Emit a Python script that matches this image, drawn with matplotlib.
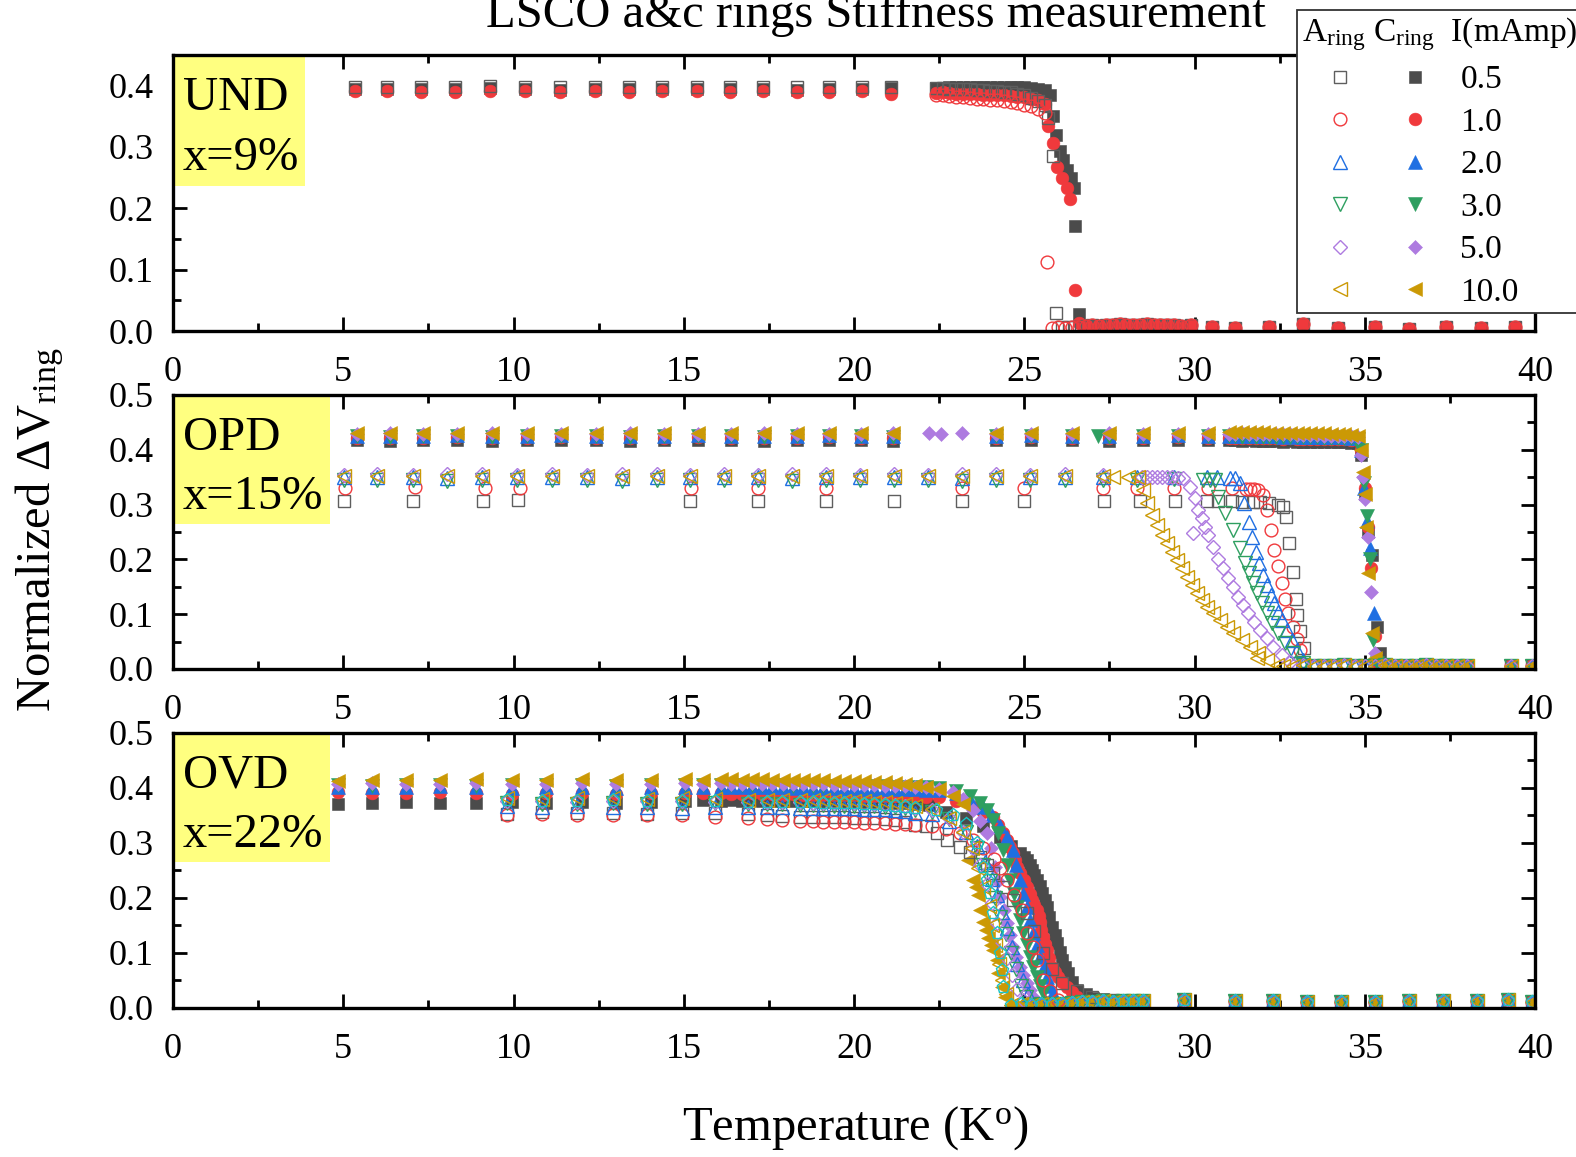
import matplotlib
matplotlib.use("Agg")
import matplotlib.pyplot as plt
from matplotlib.lines import Line2D
from matplotlib.legend_handler import HandlerTuple
from matplotlib.patches import Rectangle
from matplotlib.ticker import MultipleLocator, FormatStrFormatter

plt.rcParams["font.family"] = ["Liberation Serif", "DejaVu Serif"]
plt.rcParams["mathtext.fontset"] = "custom"
plt.rcParams["mathtext.rm"] = "Liberation Serif"
plt.rcParams["mathtext.it"] = "Liberation Serif:italic"
plt.rcParams["mathtext.bf"] = "Liberation Serif:bold"

# ---------------------------------------------------------------- data
currents = ["0.5", "1.0", "2.0", "3.0", "5.0", "10.0"]

# ---- UND, x = 9 %
und_T_low = [5.35, 6.28, 7.28, 8.28, 9.31, 10.34, 11.37, 12.39, 13.39, 14.36,
             15.39, 16.36, 17.33, 18.33, 19.27, 20.24, 21.1]
und_T_band = [22.4, 22.6, 22.8, 23.0, 23.2, 23.4, 23.6, 23.8, 24.0, 24.2,
              24.4, 24.6, 24.8, 25.0, 25.2, 25.4, 25.6]
und_T_tail = [26.8, 27.0, 27.2, 27.4, 27.6, 27.8, 28.0, 28.2, 28.4, 28.6,
              28.8, 29.0, 29.2, 29.4, 29.6, 29.9, 30.5, 31.2, 32.2, 33.2,
              34.2, 35.3, 36.3, 37.4, 38.4, 39.4]
und_V_tail = [0.008, 0.009, 0.008, 0.010, 0.009, 0.011, 0.010, 0.009, 0.010, 0.011,
              0.010, 0.009, 0.010, 0.009, 0.008, 0.009, 0.006, 0.005, 0.006, 0.012,
              0.005, 0.006, 0.004, 0.006, 0.005, 0.006]

und_c05_T = und_T_low + und_T_band + [25.76, 25.85, 25.93, 26.05, 26.14, 26.26, 26.37, 26.45, 26.48, 26.6]
und_c05_V = [0.394, 0.395, 0.394, 0.395, 0.396, 0.395, 0.393, 0.394, 0.394, 0.395,
             0.394, 0.395, 0.394, 0.393, 0.394, 0.395, 0.396,
             0.396, 0.396, 0.397, 0.397, 0.397, 0.398, 0.398, 0.398, 0.398, 0.398,
             0.398, 0.397, 0.397, 0.397, 0.396, 0.395, 0.393,
             0.385, 0.350, 0.320, 0.294, 0.278, 0.262, 0.249, 0.233, 0.171, 0.028]

und_c10_T = und_T_low + und_T_band + [25.7, 25.83, 25.95, 26.1, 26.25, 26.35, 26.48, 26.62]
und_c10_V = [0.391, 0.392, 0.390, 0.389, 0.391, 0.392, 0.390, 0.391, 0.389, 0.391,
             0.392, 0.390, 0.391, 0.389, 0.390, 0.391, 0.387,
             0.388, 0.389, 0.388, 0.387, 0.387, 0.386, 0.386, 0.385, 0.385, 0.384,
             0.384, 0.383, 0.382, 0.381, 0.379, 0.376, 0.370,
             0.335, 0.306, 0.267, 0.249, 0.233, 0.216, 0.067, 0.013]

und_a05_T = und_T_low + und_T_band + [25.7, 25.85, 25.93, 26.1, 26.3, 26.5]
und_a05_V = [0.397, 0.398, 0.397, 0.398, 0.399, 0.397, 0.398, 0.397, 0.398, 0.398,
             0.397, 0.398, 0.398, 0.397, 0.398, 0.397, 0.398,
             0.396, 0.396, 0.395, 0.395, 0.394, 0.394, 0.393, 0.393, 0.392, 0.391,
             0.390, 0.389, 0.387, 0.384, 0.380, 0.375, 0.368,
             0.348, 0.286, 0.029, 0.006, 0.007, 0.006]

und_a10_T = und_T_band + [25.67, 25.8, 26.0, 26.2, 26.4, 26.6]
und_a10_V = [0.385, 0.384, 0.383, 0.382, 0.381, 0.380, 0.379, 0.378, 0.377, 0.376,
             0.375, 0.373, 0.371, 0.369, 0.366, 0.362, 0.355,
             0.112, 0.005, 0.006, 0.005, 0.007, 0.006]

# ---- OPD, x = 15 %
opd_T_fill = [5.4, 6.37, 7.34, 8.34, 9.37, 10.4, 11.4, 12.42, 13.42, 14.42,
              15.42, 16.39, 17.36, 18.33, 19.27, 20.21, 21.15, 24.17, 25.2, 26.4,
              27.5, 28.5, 29.5, 30.4, 31.0, 31.2, 31.4, 31.6, 31.8, 32.0,
              32.2, 32.4, 32.6, 32.8, 33.0, 33.2, 33.4, 33.6, 33.8, 34.0,
              34.2, 34.4, 34.6, 34.8]
opd_T_open = [5.02, 5.99, 7.05, 8.05, 9.07, 10.1, 11.13, 12.16, 13.19, 14.21,
              15.18, 16.18, 17.18, 18.18, 19.18, 20.18, 21.17, 22.17, 23.17, 24.17,
              25.17, 26.2, 27.3]
opd_T_tail = [32.6, 32.9, 33.2, 33.5, 33.8, 34.1, 34.4, 34.7, 35.0, 35.3,
              35.6, 35.9, 36.2, 36.5, 36.8, 37.1, 37.4, 37.7, 38.0, 39.3, 39.9]
opd_V_tail = [0.006, 0.005, 0.007, 0.006, 0.005, 0.006, 0.007, 0.006, 0.005, 0.006,
              0.007, 0.006, 0.005, 0.006, 0.007, 0.006, 0.005, 0.006, 0.005, 0.006, 0.005]

opd_c05_T = opd_T_fill + [34.9, 35.0, 35.1, 35.22, 35.35, 35.45]
opd_c05_V = [0.417, 0.416, 0.417, 0.418, 0.416, 0.417, 0.418, 0.417, 0.416, 0.417,
             0.418, 0.417, 0.416, 0.417, 0.418, 0.417, 0.416, 0.417, 0.418, 0.417,
             0.416, 0.417, 0.418, 0.417, 0.417, 0.417, 0.416, 0.417, 0.416, 0.416,
             0.416, 0.416, 0.415, 0.416, 0.415, 0.415, 0.415, 0.415, 0.414, 0.414,
             0.414, 0.414, 0.413, 0.412,
             0.390, 0.320, 0.250, 0.208, 0.077, 0.029]
opd_c10_T = opd_T_fill + [34.9, 35.0, 35.1, 35.18, 35.3, 35.4]
opd_c10_V = [0.422, 0.421, 0.422, 0.423, 0.421, 0.422, 0.423, 0.422, 0.421, 0.422,
             0.423, 0.422, 0.421, 0.422, 0.423, 0.422, 0.421, 0.422, 0.423, 0.422,
             0.421, 0.422, 0.423, 0.422, 0.422, 0.422, 0.421, 0.422, 0.421, 0.421,
             0.421, 0.421, 0.420, 0.421, 0.420, 0.420, 0.420, 0.420, 0.419, 0.419,
             0.419, 0.419, 0.418, 0.417,
             0.400, 0.330, 0.260, 0.184, 0.060, 0.010]
opd_c20_T = opd_T_fill + [34.9, 34.98, 35.07, 35.15, 35.27, 35.35]
opd_c20_V = [0.426, 0.425, 0.426, 0.427, 0.425, 0.426, 0.427, 0.426, 0.425, 0.426,
             0.427, 0.426, 0.425, 0.426, 0.427, 0.426, 0.425, 0.426, 0.427, 0.426,
             0.425, 0.426, 0.427, 0.426, 0.426, 0.426, 0.425, 0.426, 0.425, 0.425,
             0.425, 0.425, 0.424, 0.425, 0.424, 0.424, 0.424, 0.424, 0.423, 0.423,
             0.423, 0.423, 0.422, 0.421,
             0.400, 0.330, 0.270, 0.220, 0.102, 0.020]
opd_c30_T = opd_T_fill + [27.17, 34.9, 34.98, 35.07, 35.15, 35.25, 35.35]
opd_c30_V = [0.425, 0.424, 0.425, 0.426, 0.424, 0.425, 0.426, 0.425, 0.424, 0.425,
             0.426, 0.425, 0.424, 0.425, 0.426, 0.425, 0.424, 0.425, 0.426, 0.425,
             0.424, 0.425, 0.426, 0.425, 0.425, 0.425, 0.424, 0.425, 0.424, 0.424,
             0.424, 0.424, 0.423, 0.424, 0.423, 0.423, 0.423, 0.423, 0.422, 0.422,
             0.422, 0.422, 0.421, 0.420,
             0.426, 0.400, 0.340, 0.280, 0.200, 0.053, 0.010]
opd_c50_T = [22.2, 22.55, 23.17] + opd_T_fill + [34.88, 34.95, 35.02, 35.1, 35.18, 35.3]
opd_c50_V = [0.430, 0.429, 0.431,
             0.429, 0.430, 0.429, 0.428, 0.430, 0.429, 0.428, 0.429, 0.430, 0.429,
             0.428, 0.429, 0.430, 0.429, 0.428, 0.429, 0.430, 0.429, 0.428, 0.429,
             0.430, 0.429, 0.428, 0.429, 0.429, 0.429, 0.430, 0.429, 0.429, 0.429,
             0.428, 0.428, 0.428, 0.428, 0.427, 0.427, 0.427, 0.427, 0.426, 0.426,
             0.426, 0.425, 0.425, 0.424,
             0.390, 0.350, 0.310, 0.240, 0.140, 0.030]
opd_c100_T = opd_T_fill + [34.9, 34.95, 35.0, 35.05, 35.1, 35.2, 35.3]
opd_c100_V = [0.430, 0.431, 0.430, 0.431, 0.430, 0.431, 0.430, 0.431, 0.430, 0.431,
              0.430, 0.431, 0.430, 0.431, 0.430, 0.431, 0.430, 0.431, 0.430, 0.431,
              0.430, 0.431, 0.430, 0.431, 0.432, 0.432, 0.432, 0.432, 0.432, 0.432,
              0.431, 0.431, 0.431, 0.431, 0.431, 0.430, 0.430, 0.430, 0.430, 0.429,
              0.429, 0.428, 0.427, 0.425,
              0.400, 0.360, 0.320, 0.260, 0.175, 0.066, 0.020]

opd_a05_T = [5.02, 7.05, 9.1, 10.13, 15.18, 17.18, 19.18, 21.17, 23.17, 25.0,
             27.35, 28.4, 29.43, 30.37, 30.69, 31.1, 31.4, 31.72, 31.92, 32.2,
             32.45, 32.6, 32.69, 32.78, 32.89, 32.98, 33.01, 33.1, 33.22]
opd_a05_V = [0.307, 0.306, 0.307, 0.308, 0.306, 0.307, 0.306, 0.307, 0.307, 0.306,
             0.306, 0.307, 0.306, 0.306, 0.306, 0.306, 0.305, 0.305, 0.304, 0.303,
             0.300, 0.295, 0.277, 0.230, 0.177, 0.128, 0.099, 0.070, 0.038]
opd_a10_T = [5.05, 7.1, 9.15, 10.18, 15.22, 17.18, 19.18, 23.17, 25.0, 27.3,
             28.3, 29.4, 30.4, 31.1, 31.5, 31.62, 31.75, 31.87, 32.0, 32.13,
             32.25, 32.33, 32.45, 32.57, 32.66, 32.75, 32.89, 33.01, 33.1]
opd_a10_V = [0.330, 0.332, 0.330, 0.331, 0.330, 0.331, 0.330, 0.331, 0.330, 0.330,
             0.331, 0.330, 0.330, 0.330, 0.329, 0.329, 0.328, 0.327, 0.317, 0.290,
             0.254, 0.217, 0.188, 0.157, 0.128, 0.102, 0.077, 0.055, 0.035]
opd_a20_T = opd_T_open + [28.3, 29.4, 30.37, 30.66, 31.04, 31.2, 31.34, 31.45, 31.6, 31.69,
                          31.81, 31.9, 32.01, 32.13, 32.25, 32.33, 32.45, 32.57, 32.72, 32.86,
                          33.01, 33.19]
opd_a20_V = [0.350, 0.351, 0.350, 0.349, 0.350, 0.351, 0.350, 0.350, 0.349, 0.350,
             0.351, 0.350, 0.350, 0.349, 0.350, 0.351, 0.350, 0.350, 0.349, 0.350,
             0.351, 0.350, 0.350,
             0.350, 0.350, 0.351, 0.350, 0.349, 0.348, 0.340, 0.303, 0.268, 0.241,
             0.213, 0.193, 0.172, 0.153, 0.135, 0.120, 0.104, 0.089, 0.071, 0.053,
             0.035, 0.016]
opd_a30_T = opd_T_open + [28.3, 29.4, 30.25, 30.45, 30.6, 30.69, 30.9, 31.13, 31.34, 31.48,
                          31.6, 31.72, 31.84, 31.98, 32.13, 32.28, 32.45, 32.66, 32.89, 33.19]
opd_a30_V = [0.344, 0.345, 0.344, 0.343, 0.345, 0.344, 0.345, 0.344, 0.343, 0.344,
             0.345, 0.344, 0.344, 0.343, 0.344, 0.345, 0.344, 0.344, 0.343, 0.344,
             0.345, 0.344, 0.344,
             0.345, 0.346, 0.345, 0.345, 0.344, 0.314, 0.285, 0.254, 0.220, 0.193,
             0.175, 0.157, 0.139, 0.120, 0.102, 0.084, 0.066, 0.047, 0.029, 0.011]
opd_a50_T = opd_T_open + [28.45, 28.6, 28.75, 28.9, 29.05, 29.2, 29.35, 29.5, 29.66, 29.87,
                          29.96, 30.01, 30.1, 30.22, 30.31, 30.4, 30.54, 30.69, 30.84, 30.98,
                          31.13, 31.28, 31.42, 31.57, 31.75, 31.92, 32.13, 32.31, 32.57, 32.8]
opd_a50_V = [0.354, 0.355, 0.354, 0.355, 0.356, 0.354, 0.355, 0.354, 0.355, 0.356,
             0.354, 0.355, 0.354, 0.355, 0.356, 0.354, 0.355, 0.354, 0.355, 0.356,
             0.354, 0.355, 0.354,
             0.350, 0.351, 0.350, 0.350, 0.351, 0.350, 0.350, 0.349, 0.348, 0.332,
             0.248, 0.312, 0.290, 0.276, 0.259, 0.245, 0.223, 0.200, 0.184, 0.166,
             0.150, 0.131, 0.117, 0.102, 0.086, 0.071, 0.057, 0.040, 0.026, 0.013]
opd_a100_T = opd_T_open + [27.6, 28.05, 28.35, 28.49, 28.6, 28.75, 28.9, 29.05, 29.19, 29.34,
                           29.49, 29.63, 29.78, 29.93, 30.07, 30.22, 30.37, 30.54, 30.75, 30.95,
                           31.13, 31.4, 31.63, 31.84, 31.86, 32.13, 32.42]
opd_a100_V = [0.352, 0.353, 0.352, 0.353, 0.352, 0.353, 0.352, 0.353, 0.352, 0.353,
              0.352, 0.353, 0.352, 0.353, 0.352, 0.353, 0.352, 0.353, 0.352, 0.353,
              0.352, 0.353, 0.352,
              0.350, 0.351, 0.350, 0.327, 0.303, 0.281, 0.263, 0.245, 0.230, 0.214,
              0.199, 0.184, 0.168, 0.153, 0.139, 0.126, 0.113, 0.102, 0.089, 0.077,
              0.066, 0.053, 0.040, 0.020, 0.029, 0.016, 0.007]

# ---- OVD, x = 22 %
ovd_T_fill = [4.85, 5.85, 6.85, 7.85, 8.9, 9.95, 10.95, 12.0, 13.0, 14.05,
              15.05, 15.55, 16.1, 16.4, 16.7, 17.0, 17.3, 17.6, 17.9, 18.2,
              18.5, 18.8, 19.1, 19.4, 19.7, 20.0, 20.3, 20.6, 20.9, 21.2,
              21.5, 21.8, 22.1]
ovd_T_open = [9.8, 10.85, 11.86, 12.92, 13.92, 14.95, 15.92, 16.89, 17.44, 17.89,
              18.4, 18.8, 19.1, 19.4, 19.7, 20.0, 20.3, 20.6, 20.9, 21.2,
              21.5, 21.8]
ovd_T_tail = [24.6, 24.9, 25.2, 25.5, 25.8, 26.1, 26.4, 26.7, 27.0, 27.3,
              27.6, 27.9, 28.2, 28.5, 29.7, 31.2, 32.3, 33.3, 34.3, 35.3,
              36.3, 37.3, 38.3, 39.2, 39.9]
ovd_V_tail = [0.006, 0.007, 0.006, 0.008, 0.007, 0.008, 0.009, 0.010, 0.011, 0.012,
              0.011, 0.012, 0.013, 0.012, 0.014, 0.013, 0.012, 0.011, 0.010, 0.011,
              0.012, 0.013, 0.012, 0.014, 0.010]

ovd_c05_T = ovd_T_fill + [22.2, 22.7, 23.3, 23.8, 24.3, 24.6, 24.87, 24.98, 25.08, 25.16,
                          25.23, 25.3, 25.37, 25.45, 25.52, 25.6, 25.67, 25.74, 25.81, 25.89,
                          25.96, 26.04, 26.11, 26.2, 26.28, 26.4, 26.55, 26.8, 27.02, 27.3,
                          27.6]
ovd_c05_V = [0.370, 0.372, 0.374, 0.372, 0.373, 0.374, 0.372, 0.375, 0.373, 0.374,
             0.376, 0.378, 0.377, 0.378, 0.377, 0.378, 0.377, 0.377, 0.376, 0.377,
             0.376, 0.376, 0.375, 0.376, 0.375, 0.375, 0.374, 0.374, 0.373, 0.373,
             0.372, 0.371, 0.370,
             0.369, 0.357, 0.345, 0.330, 0.310, 0.295, 0.282, 0.275, 0.269, 0.260,
             0.251, 0.242, 0.233, 0.221, 0.209, 0.197, 0.184, 0.165, 0.147, 0.132,
             0.118, 0.102, 0.087, 0.075, 0.064, 0.048, 0.033, 0.025, 0.018, 0.016,
             0.015]
ovd_c10_T = ovd_T_fill + [22.5, 23.0, 23.5, 23.8, 24.08, 24.23, 24.38, 24.48, 24.58, 24.66,
                          24.73, 24.8, 24.87, 24.98, 25.08, 25.16, 25.23, 25.3, 25.37, 25.42,
                          25.46, 25.5, 25.55, 25.61, 25.67, 25.74, 25.81, 25.9, 25.99, 26.12,
                          26.26, 26.4, 26.55]
ovd_c10_V = [0.392, 0.390, 0.391, 0.392, 0.390, 0.389, 0.391, 0.390, 0.389, 0.390,
             0.391, 0.390, 0.390, 0.389, 0.389, 0.390, 0.389, 0.389, 0.388, 0.389,
             0.388, 0.388, 0.388, 0.387, 0.387, 0.387, 0.386, 0.386, 0.386, 0.385,
             0.385, 0.385, 0.384,
             0.383, 0.376, 0.366, 0.357, 0.347, 0.333, 0.318, 0.305, 0.293, 0.281,
             0.269, 0.257, 0.245, 0.232, 0.220, 0.208, 0.196, 0.187, 0.178, 0.167,
             0.156, 0.142, 0.129, 0.117, 0.105, 0.090, 0.075, 0.065, 0.056, 0.047,
             0.038, 0.029, 0.020]
ovd_c20_T = ovd_T_fill + [22.5, 23.0, 23.4, 23.79, 24.05, 24.29, 24.48, 24.67, 24.77, 24.87,
                          24.97, 25.08, 25.17, 25.26, 25.36, 25.46, 25.57, 25.67, 25.76, 25.84]
ovd_c20_V = [0.402, 0.401, 0.402, 0.403, 0.401, 0.400, 0.402, 0.401, 0.400, 0.401,
             0.402, 0.401, 0.402, 0.402, 0.401, 0.402, 0.401, 0.401, 0.401, 0.400,
             0.401, 0.400, 0.400, 0.400, 0.399, 0.400, 0.399, 0.399, 0.399, 0.398,
             0.398, 0.398, 0.397,
             0.397, 0.390, 0.380, 0.365, 0.350, 0.330, 0.310, 0.287, 0.260, 0.233,
             0.208, 0.184, 0.160, 0.136, 0.114, 0.093, 0.074, 0.056, 0.040, 0.027]
ovd_c30_T = ovd_T_fill + [22.5, 23.0, 23.4, 23.7, 23.9, 24.08, 24.23, 24.38, 24.48, 24.58,
                          24.69, 24.79, 24.88, 24.96, 25.07, 25.17, 25.27, 25.37, 25.46, 25.55]
ovd_c30_V = [0.405, 0.404, 0.406, 0.405, 0.404, 0.405, 0.406, 0.405, 0.404, 0.405,
             0.406, 0.405, 0.406, 0.405, 0.405, 0.406, 0.405, 0.405, 0.405, 0.404,
             0.405, 0.404, 0.404, 0.404, 0.403, 0.404, 0.403, 0.403, 0.403, 0.402,
             0.402, 0.401, 0.401,
             0.400, 0.395, 0.385, 0.373, 0.360, 0.342, 0.318, 0.287, 0.260, 0.233,
             0.208, 0.184, 0.160, 0.136, 0.114, 0.093, 0.074, 0.056, 0.040, 0.027]
ovd_c50_T = ovd_T_fill + [22.5, 22.9, 23.2, 23.5, 23.7, 23.9, 24.02, 24.14, 24.22, 24.29,
                          24.4, 24.49, 24.58, 24.67, 24.77, 24.87, 24.97, 25.08, 25.17, 25.26]
ovd_c50_V = [0.408, 0.409, 0.408, 0.407, 0.409, 0.408, 0.407, 0.409, 0.408, 0.408,
             0.409, 0.408, 0.409, 0.408, 0.408, 0.409, 0.408, 0.408, 0.407, 0.408,
             0.407, 0.407, 0.407, 0.406, 0.406, 0.406, 0.405, 0.405, 0.404, 0.404,
             0.403, 0.402, 0.401,
             0.399, 0.392, 0.380, 0.360, 0.340, 0.318, 0.290, 0.256, 0.230, 0.202,
             0.178, 0.155, 0.132, 0.111, 0.092, 0.075, 0.060, 0.045, 0.032, 0.020]
ovd_c100_T = ovd_T_fill + [22.5, 22.9, 23.2, 23.36, 23.5, 23.58, 23.65, 23.7, 23.8, 23.87,
                           23.94, 24.02, 24.09, 24.19, 24.24, 24.34, 24.43]
ovd_c100_V = [0.413, 0.415, 0.414, 0.415, 0.416, 0.414, 0.415, 0.416, 0.415, 0.414,
              0.416, 0.415, 0.416, 0.416, 0.415, 0.416, 0.416, 0.415, 0.415, 0.415,
              0.414, 0.414, 0.414, 0.413, 0.413, 0.412, 0.412, 0.411, 0.410, 0.409,
              0.407, 0.405, 0.402,
              0.398, 0.385, 0.370, 0.269, 0.233, 0.220, 0.205, 0.178, 0.157, 0.142,
              0.127, 0.115, 0.105, 0.087, 0.063, 0.039, 0.020]

ovd_a05_T = ovd_T_open + [22.1, 22.44, 22.73, 23.1, 23.4, 23.7, 23.9, 24.08, 24.38, 24.67,
                          25.08, 25.3, 25.55, 25.8, 26.1, 26.55, 27.0, 27.6]
ovd_a05_V = [0.352, 0.356, 0.354, 0.355, 0.353, 0.355, 0.354, 0.352, 0.350, 0.349,
             0.348, 0.348, 0.347, 0.347, 0.347, 0.346, 0.346, 0.345, 0.344, 0.342,
             0.338, 0.333,
             0.330, 0.318, 0.305, 0.293, 0.284, 0.275, 0.260, 0.245, 0.220, 0.196,
             0.173, 0.140, 0.100, 0.070, 0.045, 0.030, 0.020, 0.015]
ovd_a10_T = ovd_T_open + [22.3, 22.7, 23.1, 23.5, 23.8, 24.1, 24.3, 24.49, 24.7, 24.93,
                          25.08, 25.25, 25.37, 25.55, 25.75, 26.0]
ovd_a10_V = [0.350, 0.352, 0.351, 0.350, 0.351, 0.350, 0.348, 0.345, 0.343, 0.341,
             0.340, 0.340, 0.339, 0.339, 0.338, 0.338, 0.337, 0.337, 0.336, 0.335,
             0.334, 0.332,
             0.330, 0.325, 0.318, 0.305, 0.290, 0.270, 0.255, 0.233, 0.205, 0.178,
             0.136, 0.110, 0.087, 0.050, 0.030, 0.015]
ovd_a20_T = ovd_T_open + [22.3, 22.8, 23.3, 23.6, 23.85, 24.05, 24.2, 24.35, 24.5, 24.65,
                          24.8, 24.95, 25.1]
ovd_a20_V = [0.368, 0.366, 0.367, 0.365, 0.366, 0.364, 0.365, 0.366, 0.365, 0.365,
             0.364, 0.364, 0.364, 0.363, 0.363, 0.363, 0.362, 0.362, 0.361, 0.360,
             0.358, 0.355,
             0.352, 0.340, 0.320, 0.295, 0.265, 0.235, 0.205, 0.175, 0.145, 0.110,
             0.080, 0.050, 0.025]
ovd_a30_T = ovd_T_open + [22.3, 22.8, 23.3, 23.6, 23.8, 24.0, 24.15, 24.3, 24.45, 24.6,
                          24.75, 24.9, 25.05]
ovd_a30_V = [0.372, 0.370, 0.371, 0.372, 0.370, 0.371, 0.372, 0.370, 0.370, 0.370,
             0.369, 0.369, 0.369, 0.368, 0.368, 0.368, 0.367, 0.367, 0.366, 0.365,
             0.363, 0.360,
             0.356, 0.343, 0.320, 0.290, 0.260, 0.230, 0.200, 0.165, 0.135, 0.100,
             0.070, 0.040, 0.020]
ovd_a50_T = ovd_T_open + [22.3, 22.8, 23.2, 23.5, 23.7, 23.9, 24.05, 24.2, 24.35, 24.5,
                          24.65, 24.8, 24.95]
ovd_a50_V = [0.376, 0.377, 0.375, 0.376, 0.377, 0.376, 0.375, 0.375, 0.374, 0.374,
             0.374, 0.373, 0.373, 0.373, 0.372, 0.372, 0.371, 0.371, 0.370, 0.369,
             0.367, 0.364,
             0.360, 0.345, 0.320, 0.290, 0.260, 0.225, 0.190, 0.155, 0.120, 0.090,
             0.060, 0.035, 0.015]
ovd_a100_T = ovd_T_open + [22.3, 22.8, 23.2, 23.45, 23.65, 23.8, 23.95, 24.05, 24.15, 24.25,
                           24.35, 24.45]
ovd_a100_V = [0.381, 0.380, 0.382, 0.381, 0.380, 0.381, 0.380, 0.379, 0.379, 0.379,
              0.378, 0.378, 0.378, 0.377, 0.377, 0.376, 0.376, 0.375, 0.374, 0.373,
              0.371, 0.368,
              0.362, 0.345, 0.320, 0.290, 0.255, 0.220, 0.185, 0.150, 0.115, 0.080,
              0.050, 0.025]
ovd_extra_T = ovd_T_open + [22.4, 22.9, 23.3, 23.6, 23.8, 23.9, 23.99, 24.09, 24.19, 24.29,
                            24.34, 24.38]
ovd_extra_V = [0.378, 0.376, 0.377, 0.378, 0.376, 0.377, 0.376, 0.375, 0.375, 0.374,
               0.374, 0.374, 0.373, 0.373, 0.372, 0.372, 0.371, 0.370, 0.369, 0.368,
               0.366, 0.363,
               0.360, 0.350, 0.335, 0.300, 0.256, 0.233, 0.209, 0.173, 0.136, 0.100,
               0.069, 0.038]

# ---------------------------------------------------------------- styles
COL = {"0.5": "#4b4b4b", "1.0": "#f0393c", "2.0": "#1f6fe2",
       "3.0": "#2e9f60", "5.0": "#ae7be0", "10.0": "#cb9905", "x": "#17c3c6"}
OPEN_SQ = "#5e5e5e"
MARK = {"0.5": ("s", 8.4), "1.0": ("o", 9.2), "2.0": ("^", 9.6),
        "3.0": ("v", 9.6), "5.0": ("D", 7.0), "10.0": ("<", 9.6), "x": ("p", 9.4)}


def style(cur, filled):
    m, ms = MARK[cur]
    c = COL[cur]
    if filled:
        return dict(ls="none", marker=m, ms=ms, mfc=c, mec=c, mew=0.4)
    ec = OPEN_SQ if cur == "0.5" else c
    return dict(ls="none", marker=m, ms=ms, mfc="none", mec=ec, mew=1.0)


def with_tail(T, V, tT, tV):
    if len(T) != len(V):
        raise ValueError("length mismatch %d %d" % (len(T), len(V)))
    t_end = T[-1]
    T2 = list(T) + [t for t in tT if t > t_end]
    V2 = list(V) + [v for t, v in zip(tT, tV) if t > t_end]
    return T2, V2


panels = [
    dict(name="UND", dop="x=9%", ymax=0.45, yticks=[0.0, 0.1, 0.2, 0.3, 0.4],
         box=(0.0969, 0.475),
         tail=(und_T_tail, und_V_tail),
         series=[("0.5", True, und_c05_T, und_c05_V),
                 ("1.0", True, und_c10_T, und_c10_V),
                 ("0.5", False, und_a05_T, und_a05_V),
                 ("1.0", False, und_a10_T, und_a10_V)]),
    dict(name="OPD", dop="x=15%", ymax=0.5, yticks=[0.0, 0.1, 0.2, 0.3, 0.4, 0.5],
         box=(0.1153, 0.471),
         tail=(opd_T_tail, opd_V_tail),
         series=[("0.5", True, opd_c05_T, opd_c05_V),
                 ("1.0", True, opd_c10_T, opd_c10_V),
                 ("2.0", True, opd_c20_T, opd_c20_V),
                 ("3.0", True, opd_c30_T, opd_c30_V),
                 ("5.0", True, opd_c50_T, opd_c50_V),
                 ("10.0", True, opd_c100_T, opd_c100_V),
                 ("0.5", False, opd_a05_T, opd_a05_V),
                 ("1.0", False, opd_a10_T, opd_a10_V),
                 ("2.0", False, opd_a20_T, opd_a20_V),
                 ("3.0", False, opd_a30_T, opd_a30_V),
                 ("5.0", False, opd_a50_T, opd_a50_V),
                 ("10.0", False, opd_a100_T, opd_a100_V)]),
    dict(name="OVD", dop="x=22%", ymax=0.5, yticks=[0.0, 0.1, 0.2, 0.3, 0.4, 0.5],
         box=(0.1153, 0.469),
         tail=(ovd_T_tail, ovd_V_tail),
         series=[("0.5", True, ovd_c05_T, ovd_c05_V),
                 ("1.0", True, ovd_c10_T, ovd_c10_V),
                 ("2.0", True, ovd_c20_T, ovd_c20_V),
                 ("3.0", True, ovd_c30_T, ovd_c30_V),
                 ("5.0", True, ovd_c50_T, ovd_c50_V),
                 ("10.0", True, ovd_c100_T, ovd_c100_V),
                 ("0.5", False, ovd_a05_T, ovd_a05_V),
                 ("1.0", False, ovd_a10_T, ovd_a10_V),
                 ("2.0", False, ovd_a20_T, ovd_a20_V),
                 ("3.0", False, ovd_a30_T, ovd_a30_V),
                 ("5.0", False, ovd_a50_T, ovd_a50_V),
                 ("10.0", False, ovd_a100_T, ovd_a100_V),
                 ("x", False, ovd_extra_T, ovd_extra_V)]),
]

# axes rectangles (left, bottom, width, height) in figure fraction
rects = [(0.1098, 0.7139, 0.8642, 0.2386),
         (0.1098, 0.4218, 0.8642, 0.2368),
         (0.1098, 0.1288, 0.8642, 0.2377)]

fig = plt.figure(figsize=(15.76, 11.57), dpi=100)
fig.patch.set_facecolor("white")

for rect, p in zip(rects, panels):
    ax = fig.add_axes(rect)
    tT, tV = p["tail"]
    for cur, filled, T, V in p["series"]:
        T2, V2 = with_tail(T, V, tT, tV)
        ax.plot(T2, V2, zorder=3, **style(cur, filled))

    ax.set_xlim(0, 40)
    ax.set_ylim(0, p["ymax"])
    ax.xaxis.set_major_locator(MultipleLocator(5))
    ax.xaxis.set_minor_locator(MultipleLocator(2.5))
    ax.set_yticks(p["yticks"])
    ax.yaxis.set_minor_locator(MultipleLocator(0.05))
    ax.yaxis.set_major_formatter(FormatStrFormatter("%.1f"))
    ax.tick_params(which="both", direction="in", top=True, right=True)
    ax.tick_params(which="major", length=10, width=2.0, labelsize=26)
    ax.tick_params(axis="x", which="major", pad=18)
    ax.tick_params(axis="y", which="major", pad=14)
    ax.tick_params(which="minor", length=6, width=2.0)
    for sp in ax.spines.values():
        sp.set_linewidth(2.4)
        sp.set_zorder(6)

    bw, bh = p["box"]
    ax.add_patch(Rectangle((0, 1 - bh), bw, bh, transform=ax.transAxes,
                           facecolor="#ffff80", edgecolor="none", zorder=5))
    ax.text(0.0073, 0.80, p["name"], transform=ax.transAxes, fontsize=35,
            ha="left", va="baseline", zorder=7)
    ax.text(0.0073, 0.585, p["dop"], transform=ax.transAxes, fontsize=35,
            ha="left", va="baseline", zorder=7)

fig.text(876 / 1576, 1 - 27 / 1157, "LSCO a&c rings Stiffness measurement",
         fontsize=35, ha="center", va="baseline")
fig.text(855 / 1576, 1 - 1140 / 1157, r"Temperature (K$^{\mathrm{o}}$)",
         fontsize=35, ha="center", va="baseline")
fig.text(40 / 1576, 1 - 530 / 1157, r"Normalized ΔV$_{\mathrm{ring}}$",
         fontsize=35, ha="center", va="center", rotation=90)

# legend: open (A ring) and filled (C ring) marker per drive current
handles = []
for cur in currents:
    h_open = Line2D([], [], **style(cur, False))
    h_fill = Line2D([], [], **style(cur, True))
    handles.append((h_open, h_fill))
leg = fig.legend(handles, currents, loc="upper left",
                 bbox_to_anchor=(1297 / 1576, 1 - 10 / 1157),
                 handler_map={tuple: HandlerTuple(ndivide=None, pad=0.0)},
                 title=r"A$_{\mathrm{ring}}$ C$_{\mathrm{ring}}$  I(mAmp)",
                 alignment="left", fontsize=24, title_fontsize=24,
                 handlelength=4.5, handletextpad=0.25, borderpad=0.15,
                 labelspacing=0.36, borderaxespad=0, frameon=True,
                 fancybox=False, framealpha=1, edgecolor="#333333")
leg.get_frame().set_linewidth(1.3)

fig.savefig("out.png", dpi=100)
